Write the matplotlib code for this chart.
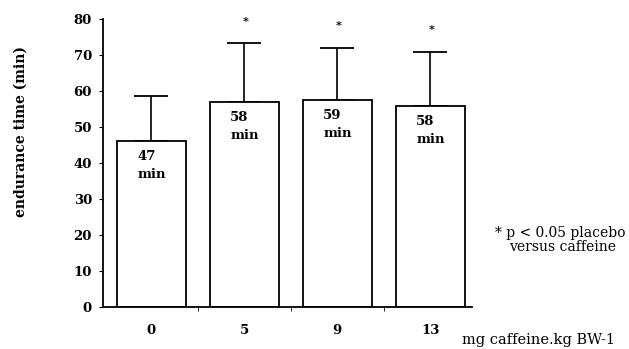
import numpy as np
import matplotlib.pyplot as plt

# endurance time vs caffeine dose
doses = ["0", "5", "9", "13"]
means = [46.2, 57.0, 57.5, 55.8]
sd_upper = [12.5, 16.2, 14.4, 15.0]
bar_labels = ["47\nmin", "58\nmin", "59\nmin", "58\nmin"]
significant = [False, True, True, True]

plt.rcParams['font.family'] = ['DejaVu Serif']

fig = plt.figure(figsize=(6.29, 3.49), dpi=100)
ax = fig.add_axes([103/629, 42/349, 369/629, 288/349])

x = np.arange(len(doses))
width = 0.74
ax.bar(x, means, width=width, color='white', edgecolor='black', linewidth=1.3, zorder=2)
ax.errorbar(x, means, yerr=[np.zeros(len(means)), sd_upper], fmt='none',
            ecolor='black', elinewidth=1.2, capsize=12, capthick=1.3, zorder=1)

for xi, m, s, lab, sig in zip(x, means, sd_upper, bar_labels, significant):
    ax.text(xi - width / 2 + 0.22, m - 2.6, lab, ha='left', va='top',
            fontsize=9.5, fontweight='bold', linespacing=1.45)
    if sig:
        ax.text(xi + 0.02, m + s + 6.2, "*", ha='center', va='center',
                fontsize=8, fontweight='bold')

ax.set_xlim(-0.52, 3.45)
ax.set_ylim(0, 80)
ax.set_yticks(np.arange(0, 81, 10))
ax.set_xticks(x)
ax.set_xticklabels(doses)
ax.set_xticks(x[:-1] + 0.5, minor=True)
ax.tick_params(axis='x', which='major', length=0, pad=12, labelsize=9.5)
ax.tick_params(axis='x', which='minor', length=3, direction='out')
ax.tick_params(axis='y', length=3, pad=5, direction='out', labelsize=9.5)
for lab in ax.get_xticklabels() + ax.get_yticklabels():
    lab.set_fontweight('bold')

for side in ['top', 'right']:
    ax.spines[side].set_visible(False)
ax.spines['left'].set_linewidth(1.3)
ax.spines['bottom'].set_linewidth(1.3)

ax.set_ylabel("endurance time (min)", fontsize=10, fontweight='bold')
ax.yaxis.set_label_coords(-0.205, 0.608)

fig.text(462/629, 1 - 340/349, "mg caffeine.kg BW-1", fontsize=10.5, va='center', ha='left')
fig.text(495/629, 1 - 233/349, "* p < 0.05 placebo", fontsize=10, va='center', ha='left')
fig.text(509/629, 1 - 247/349, "versus caffeine", fontsize=10, va='center', ha='left')

fig.savefig("out.png", dpi=100)
